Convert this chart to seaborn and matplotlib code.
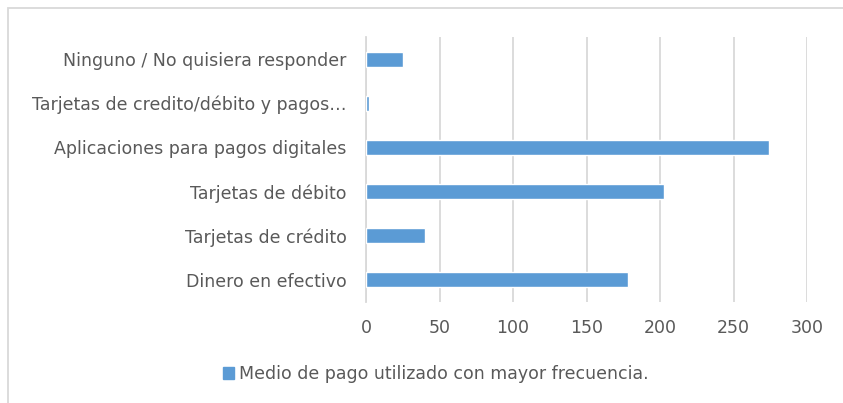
import matplotlib
matplotlib.use("Agg")
import matplotlib.pyplot as plt
import matplotlib.patches as mpatches
import seaborn as sns
import pandas as pd

categorias = [
    "Ninguno / No quisiera responder",
    "Tarjetas de credito/débito y pagos…",
    "Aplicaciones para pagos digitales",
    "Tarjetas de débito",
    "Tarjetas de crédito",
    "Dinero en efectivo",
]
valores = [25, 2, 274, 203, 40, 178]
serie = "Medio de pago utilizado con mayor frecuencia."

df = pd.DataFrame({"categoria": categorias, "valor": valores})

sns.set_style("white")
plt.rcParams["font.family"] = ["DejaVu Sans"]
texto = "#595959"
azul = "#5b9bd5"
gris = "#d9d9d9"

fig = plt.figure(figsize=(8.43, 4.03), dpi=100)
ax = fig.add_axes([366 / 843, 1 - 302 / 403, (807 - 366) / 843, (302 - 37) / 403])

sns.barplot(data=df, x="valor", y="categoria", color=azul, width=0.34,
            saturation=1, ax=ax, zorder=3)

ax.set_xlim(0, 300)
ax.set_xticks(range(0, 301, 50))
ax.grid(axis="x", color=gris, linewidth=1.3, zorder=0)
ax.set_xlabel("")
ax.set_ylabel("")
for s in ["top", "right", "bottom"]:
    ax.spines[s].set_visible(False)
ax.spines["left"].set_color(gris)
ax.spines["left"].set_linewidth(1.3)
ax.tick_params(axis="both", length=0, labelsize=12.5, colors=texto)
ax.tick_params(axis="y", pad=14)
ax.tick_params(axis="x", pad=12)

handle = mpatches.Patch(color=azul, label=serie)
fig.legend(handles=[handle], loc="center", bbox_to_anchor=(436 / 843, 1 - 374 / 403),
           frameon=False, fontsize=12.5, labelcolor=texto, handlelength=0.65,
           handleheight=0.65, handletextpad=0.3)

# marco de la figura (solo visibles el borde superior e izquierdo)
borde = mpatches.Rectangle((7.5 / 843, -0.1), 1.2, 1.1 - 8 / 403, transform=fig.transFigure,
                           fill=False, edgecolor=gris, linewidth=1.3)
fig.patches.append(borde)

fig.savefig("out.png", dpi=100)
